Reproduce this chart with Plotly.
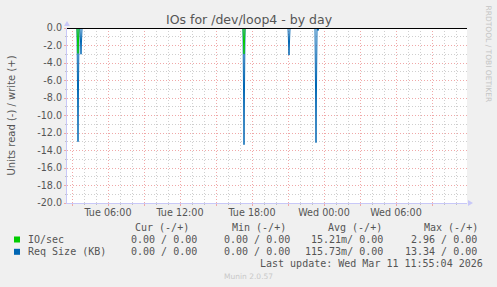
import plotly.graph_objects as go
import pandas as pd

# ---- data -------------------------------------------------------------
x_range = ["2026-03-10 02:35", "2026-03-11 11:55"]

# Req Size (KB) read values (plotted negative)
req_times = ["2026-03-10 02:35", "2026-03-10 03:25", "2026-03-10 03:30", "2026-03-10 03:35",
             "2026-03-10 03:40", "2026-03-10 03:45", "2026-03-10 03:50",
             "2026-03-10 17:15", "2026-03-10 17:20", "2026-03-10 17:25",
             "2026-03-10 21:00", "2026-03-10 21:05", "2026-03-10 21:10",
             "2026-03-10 23:15", "2026-03-10 23:20", "2026-03-10 23:25", "2026-03-10 23:30",
             "2026-03-10 23:35", "2026-03-11 11:55"]
req_read = [0, 0, 13.0, 0, 0, 3.0, 0,
            0, 13.34, 0,
            0, 3.1, 0,
            0, 13.1, 0, 0.3,
            0, 0]

# IO/sec read values (plotted negative)
io_times = ["2026-03-10 02:35", "2026-03-10 03:25", "2026-03-10 03:30", "2026-03-10 03:35",
            "2026-03-10 17:15", "2026-03-10 17:20", "2026-03-10 17:25",
            "2026-03-10 21:00", "2026-03-10 21:05", "2026-03-10 21:10",
            "2026-03-10 23:15", "2026-03-10 23:20", "2026-03-10 23:25",
            "2026-03-11 11:55"]
io_read = [0, 0, 2.9, 0,
           0, 2.96, 0,
           0, 0.1, 0,
           0, 0.1, 0,
           0]

x_tick_vals = list(pd.date_range("2026-03-10 03:00", periods=11, freq="3h"))
x_tick_text = ["", "Tue 06:00", "", "Tue 12:00", "", "Tue 18:00", "", "Wed 00:00", "", "Wed 06:00", ""]

y_tick_vals = [-20, -18, -16, -14, -12, -10, -8, -6, -4, -2, 0]
y_tick_text = ["-20.0", "-18.0", "-16.0", "-14.0", "-12.0", "-10.0", "-8.0", "-6.0", "-4.0", "-2.0", "0.0"]

legend_names = ["IO/sec", "Req Size (KB)"]
legend_colors = ["#00CC00", "#0066B3"]
col_headers = ["Cur (-/+)", "Min (-/+)", "Avg (-/+)", "Max (-/+)"]
col_values = [["0.00 / 0.00", "0.00 / 0.00", "15.21m/ 0.00", "2.96 / 0.00"],
              ["0.00 / 0.00", "0.00 / 0.00", "115.73m/ 0.00", "13.34 / 0.00"]]
last_update = "Last update: Wed Mar 11 11:55:04 2026"
title = "IOs for /dev/loop4 - by day"
y_title = "Units read (-) / write (+)"
watermark = "RRDTOOL / TOBI OETIKER"
version = "Munin 2.0.57"

# ---- layout constants ---------------------------------------------------
W, H = 497, 287
L, R, T, B = 67, 30, 28, 84
PW, PH = W - L - R, H - T - B


def px(x):
    return (x - L) / PW


def py(y):
    return (T + PH - y) / PH


TXT = "#555555"
MONO = "DejaVu Sans Mono"
SANS = "DejaVu Sans"
AXIS = "#c8c8f8"
MAJ = "#f0a8a8"
MIN = "#cfcfcf"
DASH = "1px,2px"

fig = go.Figure()
fig.add_trace(go.Scatter(x=req_times, y=[-v for v in req_read], mode="lines",
                         line=dict(color=legend_colors[1], width=1), hoverinfo="skip"))
fig.add_trace(go.Scatter(x=io_times, y=[-v for v in io_read], mode="lines",
                         line=dict(color=legend_colors[0], width=1), hoverinfo="skip"))

fig.update_layout(
    width=W, height=H, margin=dict(l=L, r=R, t=T, b=B, pad=0),
    paper_bgcolor="#f0f0f0", plot_bgcolor="#ffffff",
    showlegend=False,
    font=dict(family=SANS, size=9.6, color=TXT),
    xaxis=dict(
        type="date", range=x_range, tickmode="array",
        tickvals=x_tick_vals, ticktext=x_tick_text,
        showgrid=True, gridcolor=MAJ, griddash=DASH, gridwidth=1,
        ticks="outside", ticklen=2, tickcolor=MAJ, ticklabelstandoff=-2,
        showline=True, linecolor=AXIS, linewidth=1,
        zeroline=False, tickfont=dict(family=SANS, size=9.6, color=TXT),
        minor=dict(dtick=3600000, tick0="2026-03-10 00:00", showgrid=True,
                   gridcolor=MIN, griddash=DASH, ticks="outside",
                   ticklen=1, tickcolor="#c0c0c0"),
    ),
    yaxis=dict(
        range=[-20, 0], tickmode="array", tickvals=y_tick_vals, ticktext=y_tick_text,
        showgrid=True, gridcolor=MAJ, griddash=DASH, gridwidth=1,
        ticks="outside", ticklen=2, tickcolor=MAJ,
        showline=True, linecolor=AXIS, linewidth=1,
        zeroline=False, tickfont=dict(family=SANS, size=9.6, color=TXT),
        minor=dict(dtick=1, showgrid=True, gridcolor=MIN, griddash=DASH,
                   ticks="outside", ticklen=1, tickcolor="#c0c0c0"),
    ),
)

shapes = []
# black zero rule at the top (covers the first pixel row of the plot)
shapes.append(dict(type="line", xref="paper", yref="paper", x0=0, x1=1,
                   y0=1 - 0.5 / PH, y1=1 - 0.5 / PH,
                   line=dict(color="#000000", width=1), layer="above"))
# axis arrows
shapes.append(dict(type="path", xref="paper", yref="paper", xsizemode="pixel", ysizemode="pixel",
                   xanchor=0, yanchor=1, path="M -3,2 L 3,2 L 0,7 Z",
                   fillcolor=AXIS, line=dict(width=0)))
shapes.append(dict(type="path", xref="paper", yref="paper", xsizemode="pixel", ysizemode="pixel",
                   xanchor=1, yanchor=0, path="M 1,-3 L 1,3 L 6,0 Z",
                   fillcolor=AXIS, line=dict(width=0)))
# legend colour squares
for i, c in enumerate(legend_colors):
    yc = 239.5 + i * 12.3
    shapes.append(dict(type="rect", xref="paper", yref="paper",
                       x0=px(14), x1=px(20), y0=py(yc + 3), y1=py(yc - 3),
                       fillcolor=c, line=dict(width=0)))
fig.update_layout(shapes=shapes)

ann = []
ann.append(dict(text=title, x=px(249), y=py(19), xref="paper", yref="paper",
                showarrow=False, xanchor="center", yanchor="middle",
                font=dict(family=SANS, size=12.5, color=TXT)))
ann.append(dict(text=y_title, x=px(11), y=py(115.5), xref="paper", yref="paper",
                showarrow=False, xanchor="center", yanchor="middle", textangle=-90,
                font=dict(family=SANS, size=10, color=TXT)))
ann.append(dict(text=watermark, x=px(488), y=py(53.5), xref="paper", yref="paper",
                showarrow=False, xanchor="center", yanchor="middle", textangle=90,
                font=dict(family=SANS, size=7.5, color="#c4c4c4")))
ann.append(dict(text=version, x=px(248), y=py(276), xref="paper", yref="paper",
                showarrow=False, xanchor="center", yanchor="middle",
                font=dict(family=SANS, size=7.5, color="#c8c8c8")))

header_left = [134, 230.5, 327, 422.5]
for h, xl in zip(col_headers, header_left):
    ann.append(dict(text=h, x=px(xl), y=py(227.5), xref="paper", yref="paper",
                    showarrow=False, xanchor="left", yanchor="middle", borderpad=0,
                    font=dict(family=MONO, size=10, color=TXT)))

value_right = [197.5, 291, 384, 477.5]
for r, (name, vals) in enumerate(zip(legend_names, col_values)):
    yc = 239.5 + r * 12.3
    ann.append(dict(text=name, x=px(26.5), y=py(yc), xref="paper", yref="paper",
                    showarrow=False, xanchor="left", yanchor="middle", borderpad=0,
                    font=dict(family=MONO, size=10, color=TXT)))
    for v, xr in zip(vals, value_right):
        ann.append(dict(text=v.replace(" ", "&nbsp;"), x=px(xr), y=py(yc), xref="paper", yref="paper",
                        showarrow=False, xanchor="right", yanchor="middle", borderpad=0,
                        font=dict(family=MONO, size=10, color=TXT)))

ann.append(dict(text=last_update.replace(" ", "&nbsp;"), x=px(484), y=py(263.5), xref="paper", yref="paper",
                showarrow=False, xanchor="right", yanchor="middle", borderpad=0,
                font=dict(family=MONO, size=10, color=TXT)))
fig.update_layout(annotations=ann)

fig.write_html("out.html")
